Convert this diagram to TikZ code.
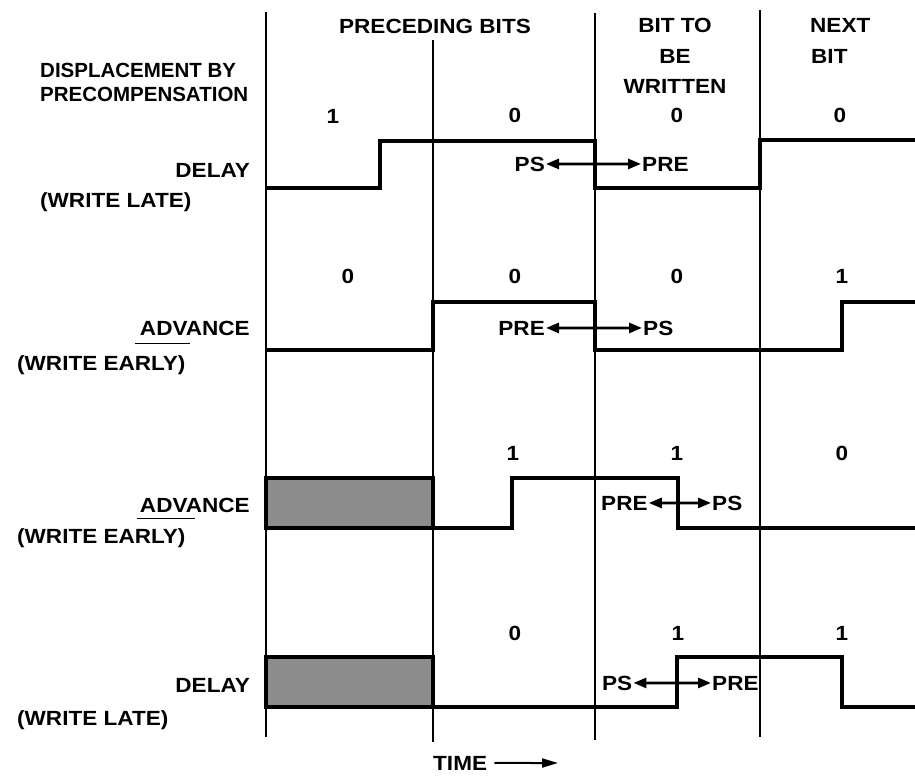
\documentclass[tikz,border=0pt]{standalone}
\usepackage{fontspec}
\setmainfont{Liberation Sans}[FakeStretch=1.1]
\newfontfamily\plainsans{Liberation Sans}
\usetikzlibrary{arrows.meta}
\tikzset{
  lbl/.style={font=\bfseries\fontsize{20.5}{23}\selectfont, inner sep=0pt},
  plbl/.style={font=\plainsans\bfseries\fontsize{20.5}{23}\selectfont, inner sep=0pt},
  gridln/.style={line width=2.4pt},
  sig/.style={line width=3.6pt, line join=miter},
  shadebox/.style={fill=black!45, draw=black, line width=3.6pt},
  dblarr/.style={line width=2.8pt, {Triangle[length=13pt,width=10pt]}-{Triangle[length=13pt,width=10pt]}, shorten <=1pt, shorten >=1pt},
  onearr/.style={line width=2pt, -{Triangle[length=16pt,width=9pt]}, shorten <=7pt},
  uline/.style={line width=0.8pt}
}
\begin{document}
\begin{tikzpicture}[x=1pt,y=-1pt]
\useasboundingbox (0,0) rectangle (915,777);
% grid lines
\draw[gridln] (266,12) -- (266,737);
\draw[gridln] (433,40) -- (433,742);
\draw[gridln] (595,13) -- (595,740);
\draw[gridln] (760,10) -- (760,737);
% headers
\node[lbl, anchor=base] (hprec) at (435,33) {PRECEDING BITS};
\node[lbl, anchor=base] (hbit1) at (675,32) {BIT TO};
\node[lbl, anchor=base] (hbit2) at (675,63) {BE};
\node[lbl, anchor=base] (hbit3) at (675,93) {WRITTEN};
\node[lbl, anchor=base west] (hnext1) at (810,32) {NEXT};
\node[lbl, anchor=base west] (hnext2) at (811,63) {BIT};
\node[plbl, anchor=base west] (disp1) at (40,77) {DISPLACEMENT BY};
\node[plbl, anchor=base west] (disp2) at (40,101) {PRECOMPENSATION};
% row labels
\node[lbl, anchor=base east] (r1a) at (250,177) {DELAY};
\node[lbl, anchor=base west] (r1b) at (40,207) {(WRITE LATE)};
\node[lbl, anchor=base east] (r2a) at (250,335) {ADVANCE};
\node[lbl, anchor=base west] (r2b) at (17,370) {(WRITE EARLY)};
\node[lbl, anchor=base east] (r3a) at (250,512) {ADVANCE};
\node[lbl, anchor=base west] (r3b) at (17,543) {(WRITE EARLY)};
\node[lbl, anchor=base east] (r4a) at (250,692) {DELAY};
\node[lbl, anchor=base west] (r4b) at (17,725) {(WRITE LATE)};
\draw[uline] (135,343) -- (190,343);
\draw[uline] (137,518) -- (195,518);
% bit values
\node[lbl, anchor=base] (b11) at (333,123) {1};
\node[lbl, anchor=base] (b12) at (515,122) {0};
\node[lbl, anchor=base] (b13) at (677,122) {0};
\node[lbl, anchor=base] (b14) at (840,122) {0};
\node[lbl, anchor=base] (b21) at (348,283) {0};
\node[lbl, anchor=base] (b22) at (515,283) {0};
\node[lbl, anchor=base] (b23) at (677,283) {0};
\node[lbl, anchor=base] (b24) at (842,283) {1};
\node[lbl, anchor=base] (b32) at (513,460) {1};
\node[lbl, anchor=base] (b33) at (677,460) {1};
\node[lbl, anchor=base] (b34) at (842,460) {0};
\node[lbl, anchor=base] (b42) at (515,640) {0};
\node[lbl, anchor=base] (b43) at (678,640) {1};
\node[lbl, anchor=base] (b44) at (842,640) {1};
% shaded boxes
\draw[shadebox] (266,478) rectangle (433,528);
\draw[shadebox] (266,657) rectangle (433,707);
% signals
\draw[sig] (266,188) -- (380,188) -- (380,141) -- (595,141) -- (595,188) -- (760,188) -- (760,140) -- (916,140);
\draw[sig] (266,350) -- (433,350) -- (433,302) -- (595,302) -- (595,350) -- (842,350) -- (842,302) -- (916,302);
\draw[sig] (266,528) -- (512,528) -- (512,478) -- (678,478) -- (678,528) -- (916,528);
\draw[sig] (266,707) -- (677,707) -- (677,657) -- (842,657) -- (842,707) -- (916,707);
% PS / PRE arrows
\node[lbl, anchor=base east] (ps1) at (545,171) {PS};
\node[lbl, anchor=base west] (pre1) at (642,171) {PRE};
\draw[dblarr] (ps1) -- (pre1);
\node[lbl, anchor=base east] (pre2) at (545,335) {PRE};
\node[lbl, anchor=base west] (ps2) at (643,335) {PS};
\draw[dblarr] (pre2) -- (ps2);
\node[lbl, anchor=base west] (pre3) at (601,510) {PRE};
\node[lbl, anchor=base west] (ps3) at (712,510) {PS};
\draw[dblarr] (pre3) -- (ps3);
\node[lbl, anchor=base west] (ps4) at (602,690) {PS};
\node[lbl, anchor=base west] (pre4) at (712,690) {PRE};
\draw[dblarr] (ps4) -- (pre4);
% time
\node[lbl, anchor=base west] (time) at (433,770) {TIME};
\coordinate (tend) at (558,763);
\draw[onearr] (time) -- (tend);
\end{tikzpicture}
\end{document}
